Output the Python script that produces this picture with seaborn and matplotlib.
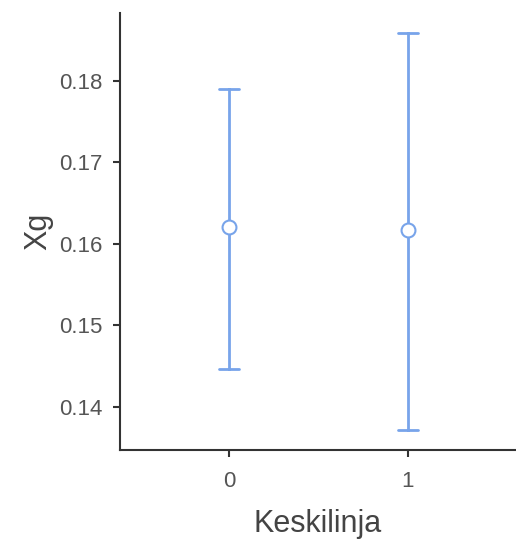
import matplotlib
matplotlib.use("Agg")
import matplotlib.pyplot as plt
import seaborn as sns
import pandas as pd

# values: mean and the ends of the error bars
groups = ["0", "1"]
means = [0.1620, 0.1617]
lower = [0.1447, 0.1372]
upper = [0.1790, 0.1859]

rows = []
for g, lo, m, hi in zip(groups, lower, means, upper):
    for v in (lo, m, hi):
        rows.append({"Keskilinja": g, "Xg": v})
df = pd.DataFrame(rows)

sns.set_theme(style="ticks")
plt.rcParams['font.family'] = ['Liberation Sans', 'DejaVu Sans']

col = "#78a4ea"
fig = plt.figure(figsize=(5.16, 5.41), dpi=100)
ax = fig.add_axes([0.233, 0.168, 0.765, 0.808])

# median of (low, mean, high) is the mean, 100% interval gives the bar ends
sns.pointplot(data=df, x="Keskilinja", y="Xg", estimator="median",
              errorbar=("pi", 100), capsize=0.11, color=col,
              linestyle="none", marker="o", markersize=10,
              markerfacecolor="white", markeredgecolor=col,
              markeredgewidth=1.5, zorder=5,
              err_kws={"linewidth": 2, "zorder": 3}, ax=ax)

ax.set_xlim(-0.61, 1.6)
ax.set_ylim(0.1347, 0.1883)
ax.set_yticks([0.14, 0.15, 0.16, 0.17, 0.18])
ax.set_yticklabels(["0.14", "0.15", "0.16", "0.17", "0.18"])

for s in ["top", "right"]:
    ax.spines[s].set_visible(False)
for s in ["left", "bottom"]:
    ax.spines[s].set_color("#333333")
    ax.spines[s].set_linewidth(1.5)
ax.tick_params(colors="#333333", labelcolor="#555555", labelsize=16,
               width=1.5, length=5)
ax.tick_params(axis="y", pad=8)
ax.tick_params(axis="x", pad=10)
ax.set_xlabel("Keskilinja", fontsize=22, color="#444444", labelpad=12)
ax.set_ylabel("Xg", fontsize=22, color="#444444", labelpad=4)

fig.savefig("out.png", dpi=100)
